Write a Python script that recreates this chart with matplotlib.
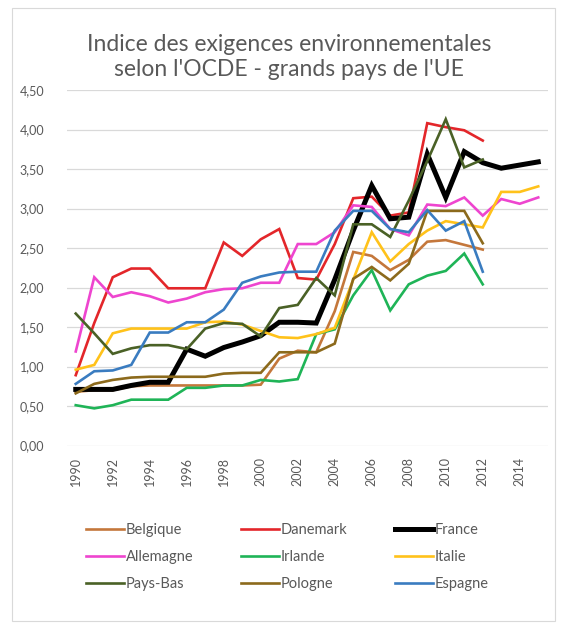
import matplotlib
matplotlib.use("Agg")
import matplotlib.pyplot as plt
from matplotlib.patches import Rectangle

years = list(range(1990, 2016))

belgique = [0.68, 0.70, 0.70, 0.75, 0.76, 0.76, 0.76, 0.76, 0.76, 0.76, 0.77, 1.10, 1.20, 1.18, 1.70,
            2.45, 2.40, 2.22, 2.35, 2.58, 2.60, 2.54, 2.48]
danemark = [0.89, 1.55, 2.13, 2.24, 2.24, 1.99, 1.99, 1.99, 2.57, 2.40, 2.61, 2.74, 2.12, 2.10, 2.55,
            3.13, 3.15, 2.91, 2.95, 4.08, 4.03, 3.99, 3.86]
france = [0.71, 0.71, 0.71, 0.76, 0.80, 0.80, 1.22, 1.13, 1.24, 1.31, 1.39, 1.56, 1.56, 1.55, 2.10,
          2.72, 3.29, 2.87, 2.89, 3.69, 3.14, 3.72, 3.58, 3.51, 3.55, 3.59]
allemagne = [1.19, 2.13, 1.88, 1.94, 1.89, 1.81, 1.86, 1.94, 1.98, 1.99, 2.06, 2.06, 2.55, 2.55, 2.70,
             3.04, 3.02, 2.74, 2.66, 3.05, 3.03, 3.14, 2.91, 3.12, 3.06, 3.14]
irlande = [0.51, 0.47, 0.51, 0.58, 0.58, 0.58, 0.73, 0.73, 0.76, 0.76, 0.83, 0.81, 0.84, 1.41, 1.47,
           1.90, 2.22, 1.71, 2.04, 2.15, 2.21, 2.43, 2.04]
italie = [0.96, 1.02, 1.42, 1.48, 1.48, 1.48, 1.48, 1.56, 1.57, 1.53, 1.45, 1.37, 1.36, 1.41, 1.49,
          2.10, 2.70, 2.33, 2.55, 2.72, 2.84, 2.80, 2.76, 3.21, 3.21, 3.28]
pays_bas = [1.67, 1.42, 1.16, 1.23, 1.27, 1.27, 1.22, 1.48, 1.55, 1.54, 1.38, 1.74, 1.78, 2.12, 1.90,
            2.80, 2.80, 2.64, 3.10, 3.60, 4.13, 3.52, 3.62]
pologne = [0.66, 0.78, 0.83, 0.86, 0.87, 0.87, 0.87, 0.87, 0.91, 0.92, 0.92, 1.18, 1.18, 1.18, 1.29,
           2.11, 2.26, 2.09, 2.30, 2.97, 2.97, 2.97, 2.56]
espagne = [0.78, 0.94, 0.95, 1.02, 1.43, 1.43, 1.56, 1.56, 1.72, 2.06, 2.14, 2.19, 2.20, 2.20, 2.72,
           2.97, 2.97, 2.74, 2.70, 2.98, 2.72, 2.84, 2.20]

series_names = ["Belgique", "Danemark", "France", "Allemagne", "Irlande", "Italie",
                "Pays-Bas", "Pologne", "Espagne"]
series_values = [belgique, danemark, france, allemagne, irlande, italie, pays_bas, pologne, espagne]
colors = ["#C4773B", "#E3262A", "#000000", "#EE45CF", "#1FB457", "#FFC21A",
          "#4A6126", "#8C6A1C", "#3A7CC0"]
widths = [1.9, 1.9, 3.6, 1.9, 1.9, 1.9, 1.9, 1.9, 1.9]

ytick_vals = [0, 0.5, 1.0, 1.5, 2.0, 2.5, 3.0, 3.5, 4.0, 4.5]
ytick_labels = ["0,00", "0,50", "1,00", "1,50", "2,00", "2,50", "3,00", "3,50", "4,00", "4,50"]
xtick_labels = [str(y) for y in years[::2]]

title = "Indice des exigences environnementales\nselon l'OCDE - grands pays de l'UE"

plt.rcParams['font.family'] = ['Lato', 'DejaVu Sans']
txt = "#595959"

fig = plt.figure(figsize=(5.66, 6.28), dpi=100)
fig.patches.append(Rectangle((12/566, 1-621/628), 543/566, 613/628, transform=fig.transFigure,
                             fill=False, edgecolor="#d9d9d9", linewidth=0.8))

ax = fig.add_axes([66.5/566, 1-445.5/628, 481/566, 355.5/628])
x = list(range(len(years)))
handles = {}
for name, vals, c, lw in zip(series_names, series_values, colors, widths):
    h, = ax.plot(x[:len(vals)], vals, color=c, linewidth=lw, solid_joinstyle='miter', label=name)
    handles[name] = h

ax.set_xlim(-0.5, len(years) - 0.5)
ax.set_ylim(0, 4.5)
ax.set_yticks(ytick_vals)
ax.set_yticklabels(ytick_labels, color=txt, fontsize=9)
ax.set_xticks(x[::2])
ax.set_xticklabels(xtick_labels, rotation=90, color=txt, fontsize=9)
ax.tick_params(length=0, pad=8)
ax.tick_params(axis='y', pad=16)
ax.grid(axis='y', color="#d9d9d9", linewidth=0.9)
ax.set_axisbelow(True)
for s in ax.spines.values():
    s.set_visible(False)

fig.text(289/566, 1-57/628, title, ha='center', va='center', fontsize=16.5, color=txt,
         linespacing=1.25)

order = ["Belgique", "Allemagne", "Pays-Bas", "Danemark", "Irlande", "Pologne",
         "France", "Italie", "Espagne"]
leg = fig.legend([handles[n] for n in order], order, ncol=3, loc='upper left',
                 bbox_to_anchor=(73/566, 1-510/628), frameon=False, fontsize=10.5,
                 handlelength=2.6, handletextpad=0.1, columnspacing=3.3, labelspacing=0.9)
for t in leg.get_texts():
    t.set_color(txt)

fig.savefig("out.png", dpi=100)
